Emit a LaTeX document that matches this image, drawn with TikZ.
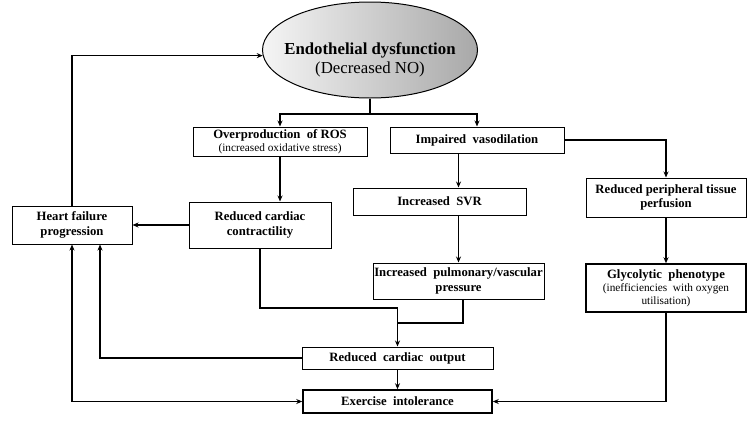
\documentclass[tikz,border=0pt]{standalone}
\usepackage{fontspec}
\setmainfont{Liberation Serif}
\usetikzlibrary{arrows.meta,calc,shapes.geometric}
\begin{document}
\begin{tikzpicture}[x=1pt,y=-1pt,
  box/.style={draw,line width=1pt,rectangle,inner sep=0pt,align=center,
    font=\fontsize{12.7}{14.5}\selectfont\bfseries},
  thick box/.style={box,line width=1.5pt},
  conn/.style={line width=1.25pt},
  arr/.style={conn,-{Stealth[length=6pt,width=5pt]}},
  arrboth/.style={conn,{Stealth[length=6pt,width=5pt]}-{Stealth[length=6pt,width=5pt]}}]
\useasboundingbox (0,0) rectangle (755,424);

\node[ellipse,draw,line width=1pt,minimum width=215pt,minimum height=96pt,inner sep=0pt,
  left color=gray!8,right color=gray!68] (ell) at (370,50) {};
\node[align=center,inner sep=0pt] (ellt) at (370,60)
  {{\fontsize{16.8}{20}\selectfont\bfseries Endothelial dysfunction}\\[3pt]
   {\fontsize{16.8}{20}\selectfont (Decreased NO)}};

\node[box,minimum width=120pt,minimum height=38pt] (HF) at (72,225) {Heart failure\\progression};
\node[box,minimum width=142pt,minimum height=46pt] (contr) at (260,225) {Reduced cardiac\\contractility};
\node[box,minimum width=174pt,minimum height=29pt] (ROS) at (280,141.5)
  {Overproduction\ \ of ROS\\[-1pt]{\fontsize{11.3}{12}\selectfont\mdseries (increased oxidative stress)}};
\node[box,minimum width=174pt,minimum height=26pt] (Imp) at (477,140) {Impaired\ \ vasodilation};
\node[box,minimum width=173pt,minimum height=27pt] (SVR) at (439.5,201.5) {Increased\ \ SVR};
\node[box,minimum width=171pt,minimum height=36pt] (pulm) at (458.5,281) {Increased\ \ pulmonary/vascular\\pressure};
\node[box,minimum width=160pt,minimum height=39pt] (periph) at (666,197.5) {Reduced peripheral tissue\\perfusion};
\node[thick box,minimum width=160pt,minimum height=48pt] (glyc) at (666,288)
  {Glycolytic\ \ phenotype\\[-1pt]{\fontsize{11.3}{12.5}\selectfont\mdseries (inefficiencies\ \ with oxygen}\\[-2pt]{\fontsize{11.3}{12.5}\selectfont\mdseries utilisation)}};
\node[box,minimum width=191pt,minimum height=22pt] (CO) at (397.5,358) {Reduced\ \ cardiac\ \ output};
\node[thick box,minimum width=189pt,minimum height=23pt] (Ex) at (397.5,401.5) {Exercise\ \ intolerance};

\coordinate (split) at (370,114);
\coordinate (j1) at (397.5,308);
\coordinate (j2) at (397.5,323);

\draw[arr] (HF.north) |- (ell.183);
\draw[conn] (ell.south) -- (split);
\draw[arr] (split) -| (ROS.north);
\draw[arr] (split) -| (Imp.north);
\draw[arr] (ROS.south) -- (ROS.south |- contr.north);
\draw[arr] (contr.west) -- (HF.east);
\draw[arr] (Imp.east) -| (periph.north);
\draw[arr] (pulm.north |- Imp.south) -- (pulm.north |- SVR.north);
\draw[arr] (pulm.north |- SVR.south) -- (pulm.north);
\draw[arr] (periph.south) -- (glyc.north);
\draw[conn] (contr.south) |- (j1);
\draw[conn] ($(pulm.south)+(4.5,0)$) |- (j2);
\draw[arr] (j1) -- (CO.north);
\draw[arr] (CO.south) -- (Ex.north);
\draw[arr] (CO.west) -| ($(HF.south)+(28,0)$);
\draw[arrboth] (HF.south) |- (Ex.west);
\draw[arr] (glyc.south) |- (Ex.east);
\end{tikzpicture}
\end{document}
